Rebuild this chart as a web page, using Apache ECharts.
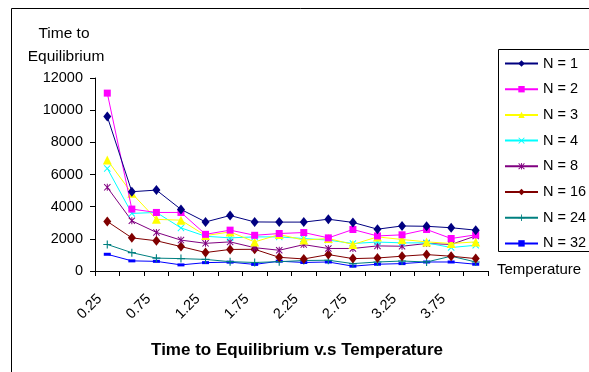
<!DOCTYPE html>
<html>
<head>
<meta charset="utf-8">
<script src="https://cdn.jsdelivr.net/npm/echarts@6/dist/echarts.min.js"></script>
<style>html,body{margin:0;padding:0;background:#fff;}#c{width:589px;height:372px;}</style>
</head>
<body>
<div id="c"></div>
<script>
var categories = ['0.25','0.5','0.75','1','1.25','1.5','1.75','2','2.25','2.5','2.75','3','3.25','3.5','3.75','4'];
var yTicks = [0, 2000, 4000, 6000, 8000, 10000, 12000];
var seriesNames = ['N = 1','N = 2','N = 3','N = 4','N = 8','N = 16','N = 24','N = 32'];
var n1  = [9600, 4930, 5030, 3830, 3050, 3450, 3050, 3040, 3040, 3220, 3020, 2600, 2800, 2780, 2690, 2540];
var n2  = [11060, 3850, 3640, 3640, 2280, 2540, 2220, 2330, 2390, 2060, 2580, 2180, 2250, 2580, 2020, 2250];
var n3  = [6900, 4830, 3210, 3160, 2200, 2430, 1810, 2270, 1920, 2020, 1650, 2120, 1960, 1810, 1710, 1810];
var n4  = [6380, 3580, 3640, 2680, 2160, 2060, 2120, 2120, 2020, 1920, 1710, 1800, 1750, 1750, 1460, 1600];
var n8  = [5200, 3120, 2400, 1920, 1720, 1810, 1450, 1290, 1640, 1400, 1400, 1560, 1540, 1710, 1650, 2180];
var n16 = [3080, 2060, 1880, 1520, 1150, 1340, 1350, 850, 750, 1020, 770, 810, 920, 1020, 920, 770];
var n24 = [1650, 1140, 800, 770, 720, 580, 530, 580, 650, 670, 460, 560, 620, 560, 920, 560];
var n32 = [1040, 630, 600, 380, 520, 550, 410, 610, 530, 560, 300, 420, 460, 560, 560, 420];

var FONT = "'Liberation Sans', Arial, sans-serif";
var xPath = 'path://M0,1L1,0L5,4L9,0L10,1L6,5L10,9L9,10L5,6L1,10L0,9L4,5Z';
var starPath = 'path://M0,1L1,0L5,4L9,0L10,1L6,5L10,9L9,10L5,6L1,10L0,9L4,5ZM4.3,0L5.7,0L5.7,10L4.3,10Z';
var plusPath = 'path://M4.3,0L5.7,0L5.7,4.3L10,4.3L10,5.7L5.7,5.7L5.7,10L4.3,10L4.3,5.7L0,5.7L0,4.3L4.3,4.3Z';

var defs = [
  {data:n1,  color:'#000080', symbol:'diamond', size:[8,10]},
  {data:n2,  color:'#FF00FF', symbol:'rect', size:7},
  {data:n3,  color:'#FFFF00', symbol:'triangle', size:9},
  {data:n4,  color:'#00FFFF', symbol:xPath, size:7},
  {data:n8,  color:'#800080', symbol:starPath, size:7},
  {data:n16, color:'#800000', symbol:'diamond', size:[8,10]},
  {data:n24, color:'#008080', symbol:plusPath, size:8},
  {data:n32, color:'#0000FF', symbol:'rect', size:[7,3]}
];

var series = defs.map(function(d, i){
  return {
    name: seriesNames[i], type:'line', data:d.data,
    symbol:d.symbol, symbolSize:d.size, showSymbol:true,
    itemStyle:{color:d.color},
    lineStyle:{color:d.color, width:1},
    animation:false, z: 10 - i
  };
});

var chart = echarts.init(document.getElementById('c'), null, {renderer:'canvas'});
chart.setOption({
  backgroundColor:'#fff',
  animation:false,
  textStyle:{fontFamily:FONT},
  grid:{left:95, right:101, top:78, bottom:101, containLabel:false},
  xAxis:{
    type:'category', data:categories, boundaryGap:true,
    axisLine:{lineStyle:{color:'#000', width:1}},
    axisTick:{show:true, interval:0, length:5, lineStyle:{color:'#000'}},
    axisLabel:{interval:1, rotate:45, margin:18, padding:[0,11,0,0], color:'#000', fontSize:14.5, fontFamily:FONT},
    splitLine:{show:false}
  },
  yAxis:{
    type:'value', min:yTicks[0], max:yTicks[yTicks.length-1], interval:2000,
    axisLine:{show:true, lineStyle:{color:'#000', width:1}},
    axisTick:{show:true, length:5, lineStyle:{color:'#000'}},
    axisLabel:{margin:12, color:'#000', fontSize:14.5, fontFamily:FONT, formatter:function(v){return String(v);}},
    splitLine:{show:false}
  },
  legend:{
    orient:'vertical', left:504, top:56, padding:0,
    itemWidth:33, itemHeight:8, itemGap:10.7,
    textStyle:{color:'#000', fontSize:14.5, fontFamily:FONT},
    data:seriesNames
  },
  graphic:[
    {type:'rect', shape:{x:11.5, y:8.5, width:600, height:400}, style:{fill:null, stroke:'#000', lineWidth:1}, silent:true, z:-1},
    {type:'rect', shape:{x:498.5, y:49.5, width:120, height:202}, style:{fill:'#fff', stroke:'#000', lineWidth:1}, silent:true, z:-1},
    {type:'text', style:{text:'Time to', x:64, y:34, align:'center', verticalAlign:'middle', font:'15.5px ' + FONT, fill:'#000'}},
    {type:'text', style:{text:'Equilibrium', x:66, y:57, align:'center', verticalAlign:'middle', font:'15.5px ' + FONT, fill:'#000'}},
    {type:'text', style:{text:'Temperature', x:497, y:270, align:'left', verticalAlign:'middle', font:'15px ' + FONT, fill:'#000'}},
    {type:'text', style:{text:'Time to Equilibrium v.s Temperature', x:297, y:350, align:'center', verticalAlign:'middle', font:'bold 17px ' + FONT, fill:'#000'}}
  ],
  series:series
});
</script>
</body>
</html>
